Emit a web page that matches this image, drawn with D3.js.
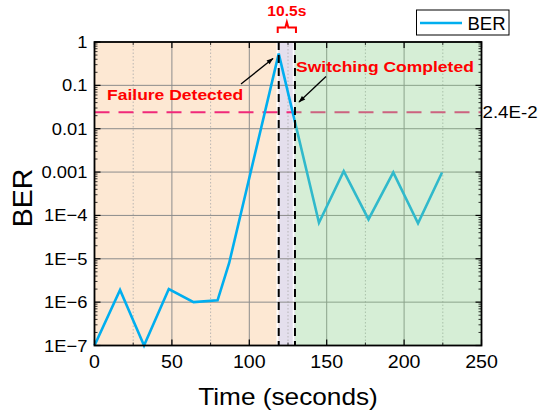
<!DOCTYPE html>
<html>
<head>
<meta charset="utf-8">
<script src="https://cdn.jsdelivr.net/npm/d3@7"></script>
<style>
  body { margin: 0; background: #fff; }
  svg { font-family: "Liberation Sans", Arial, sans-serif; }
</style>
</head>
<body>
<svg id="chart" width="540" height="417"></svg>
<script>
// data
const time = [0, 16.5, 32, 48, 64, 79.5, 87, 119, 145, 161, 177, 193, 209, 224.5];
const ber = [1e-7, 1.9e-6, 1e-7, 2e-6, 1e-6, 1.1e-6, 8e-6, 0.54, 6.8e-5, 1.05e-3, 8.1e-5, 9.8e-4, 6.6e-5, 9.8e-4];
const xTicks = [0, 50, 100, 150, 200, 250];
const xMinor = [25, 75, 125, 175, 225];
const yTicks = [1, 0.1, 0.01, 0.001, 1e-4, 1e-5, 1e-6, 1e-7];
const yLabels = ['1', '0.1', '0.01', '0.001', '1E\u22124', '1E\u22125', '1E\u22126', '1E\u22127'];
const failTime = 119;
const switchTime = 129.5;
const threshold = 0.024;

const margin = { left: 94.5, right: 58.5, top: 42, bottom: 71.5 };
const width = 540, height = 417;

const x = d3.scaleLinear().domain([0, 250]).range([margin.left, width - margin.right]);
const y = d3.scaleLog().domain([1e-7, 1]).range([height - margin.bottom, margin.top]);

const svg = d3.select('#chart');
const x0 = x.range()[0], x1 = x.range()[1];
const yb = y.range()[0], yt = y.range()[1];

// text helper: the source figure's lettering is a little wide, so stretch it
function label(g, px, py, str, size, sx, anchor) {
  return g.append('text')
    .attr('transform', `translate(${px},${py}) scale(${sx},1)`)
    .attr('font-size', size).attr('text-anchor', anchor || 'start').text(str);
}

// shaded regions
svg.append('rect').attr('x', x(0)).attr('y', yt).attr('width', x(failTime) - x(0)).attr('height', yb - yt)
  .attr('fill', '#fde8d3');
svg.append('rect').attr('x', x(failTime)).attr('y', yt).attr('width', x(switchTime) - x(failTime)).attr('height', yb - yt)
  .attr('fill', '#e4dfed');
svg.append('line').attr('x1', x(failTime) - 1.5).attr('x2', x(failTime) - 1.5).attr('y1', yt).attr('y2', yb)
  .attr('stroke', '#fff').attr('stroke-width', 1.5);
svg.append('line').attr('x1', x(switchTime) - 1.5).attr('x2', x(switchTime) - 1.5).attr('y1', yt).attr('y2', yb)
  .attr('stroke', '#fff').attr('stroke-width', 1.5);

// grid
const grid = svg.append('g');
grid.selectAll('.gx').data(xTicks.slice(1, -1)).join('line')
  .attr('x1', d => x(d)).attr('x2', d => x(d)).attr('y1', yt).attr('y2', yb)
  .attr('stroke', '#8c8c8c').attr('stroke-width', 1);
grid.selectAll('.gxm').data(xMinor).join('line')
  .attr('x1', d => x(d)).attr('x2', d => x(d)).attr('y1', yt).attr('y2', yb)
  .attr('stroke', '#aaa').attr('stroke-width', 0.8).attr('stroke-dasharray', '1.5,2');
grid.selectAll('.gy').data(yTicks.slice(1, -1)).join('line')
  .attr('x1', x0).attr('x2', x1).attr('y1', d => y(d)).attr('y2', d => y(d))
  .attr('stroke', '#8c8c8c').attr('stroke-width', 1);

// threshold
svg.append('line').attr('x1', x0).attr('x2', x1).attr('y1', y(threshold)).attr('y2', y(threshold))
  .attr('stroke', '#f0287a').attr('stroke-width', 2).attr('stroke-dasharray', '15,9');

// BER line
const line = d3.line().x((d, i) => x(time[i])).y(d => y(d));
svg.append('path').datum(ber)
  .attr('fill', 'none').attr('stroke', '#00aeef').attr('stroke-width', 2.6)
  .attr('stroke-linejoin', 'miter').attr('d', line);

// green overlay after switching
svg.append('rect').attr('x', x(switchTime)).attr('y', yt).attr('width', x(250) - x(switchTime)).attr('height', yb - yt)
  .attr('fill', 'rgb(138,206,138)').attr('fill-opacity', 0.35);

// vertical event markers
[failTime, switchTime].forEach(t => {
  svg.append('line').attr('x1', x(t)).attr('x2', x(t)).attr('y1', yt).attr('y2', yb)
    .attr('stroke', '#000').attr('stroke-width', 2).attr('stroke-dasharray', '8,5');
});

// axes
const axisG = svg.append('g');
const minorY = [];
for (let e = -7; e < 0; e++) for (let m = 2; m <= 9; m++) minorY.push(m * Math.pow(10, e));

[x0, x1].forEach((px, k) => {
  const dir = k === 0 ? 1 : -1;
  axisG.selectAll(null).data(yTicks).join('line')
    .attr('x1', px).attr('x2', px + dir * 6).attr('y1', d => y(d)).attr('y2', d => y(d))
    .attr('stroke', '#000').attr('stroke-width', 1.2);
  axisG.selectAll(null).data(minorY).join('line')
    .attr('x1', px).attr('x2', px + dir * 3).attr('y1', d => y(d)).attr('y2', d => y(d))
    .attr('stroke', '#000').attr('stroke-width', 0.8);
});
[yb, yt].forEach((py, k) => {
  const dir = k === 0 ? -1 : 1;
  axisG.selectAll(null).data(xTicks).join('line')
    .attr('x1', d => x(d)).attr('x2', d => x(d)).attr('y1', py).attr('y2', py + dir * 6)
    .attr('stroke', '#000').attr('stroke-width', 1.2);
  axisG.selectAll(null).data(xMinor).join('line')
    .attr('x1', d => x(d)).attr('x2', d => x(d)).attr('y1', py).attr('y2', py + dir * 3)
    .attr('stroke', '#000').attr('stroke-width', 0.8);
});
svg.append('rect').attr('x', x0).attr('y', yt).attr('width', x1 - x0).attr('height', yb - yt)
  .attr('fill', 'none').attr('stroke', '#000').attr('stroke-width', 1.8);

yTicks.forEach((d, i) => label(axisG, x0 - 7, y(d) + 6, yLabels[i], 17, 1.08, 'end'));
xTicks.forEach(d => label(axisG, x(d), yb + 22.5, d, 18.5, 1.06, 'middle'));

label(svg, (x0 + x1) / 2, 405, 'Time (seconds)', 23, 1.14, 'middle');
svg.append('text').attr('transform', `translate(31.5,198) rotate(-90)`).attr('text-anchor', 'middle')
  .attr('font-size', 28.5).text('BER');

label(svg, x1 + 1, y(threshold) + 6, '2.4E-2', 17, 1.1);

// annotations
const red = '#ff0000';
label(svg, (x(failTime) + x(switchTime)) / 2, 16, '10.5s', 15, 1.04, 'middle')
  .attr('font-weight', 'bold').attr('fill', red);
const bx0 = x(failTime) - 1, bx1 = x(switchTime) + 1, bm = (bx0 + bx1) / 2;
svg.append('path')
  .attr('d', `M${bx0},33 V27.5 H${bm - 1.5} L${bm},22 L${bm + 1.5},27.5 H${bx1} V33`)
  .attr('fill', 'none').attr('stroke', red).attr('stroke-width', 2);

label(svg, 107, 100, 'Failure Detected', 15.5, 1.13).attr('font-weight', 'bold').attr('fill', red);
label(svg, 296, 72, 'Switching Completed', 15.5, 1.13).attr('font-weight', 'bold').attr('fill', red);

const defs = svg.append('defs');
defs.append('marker').attr('id', 'ah').attr('viewBox', '0 0 10 10').attr('refX', 9).attr('refY', 5)
  .attr('markerWidth', 8).attr('markerHeight', 7).attr('orient', 'auto-start-reverse').attr('markerUnits', 'userSpaceOnUse')
  .append('path').attr('d', 'M0,1.5 L10,5 L0,8.5 Z').attr('fill', '#000');
svg.append('line').attr('x1', 241).attr('y1', 84).attr('x2', 273).attr('y2', 58.5)
  .attr('stroke', '#000').attr('stroke-width', 1.3).attr('marker-end', 'url(#ah)');
svg.append('line').attr('x1', 326).attr('y1', 76.5).attr('x2', 299).attr('y2', 102)
  .attr('stroke', '#000').attr('stroke-width', 1.3).attr('marker-end', 'url(#ah)');

// legend
const lg = svg.append('g');
lg.append('rect').attr('x', 416.5).attr('y', 10).attr('width', 92.5).attr('height', 25)
  .attr('fill', '#fff').attr('stroke', '#000').attr('stroke-width', 1);
lg.append('line').attr('x1', 420).attr('x2', 462).attr('y1', 23).attr('y2', 23)
  .attr('stroke', '#00aeef').attr('stroke-width', 2.6);
label(lg, 467.5, 29.5, 'BER', 18, 1.03);
</script>
</body>
</html>
